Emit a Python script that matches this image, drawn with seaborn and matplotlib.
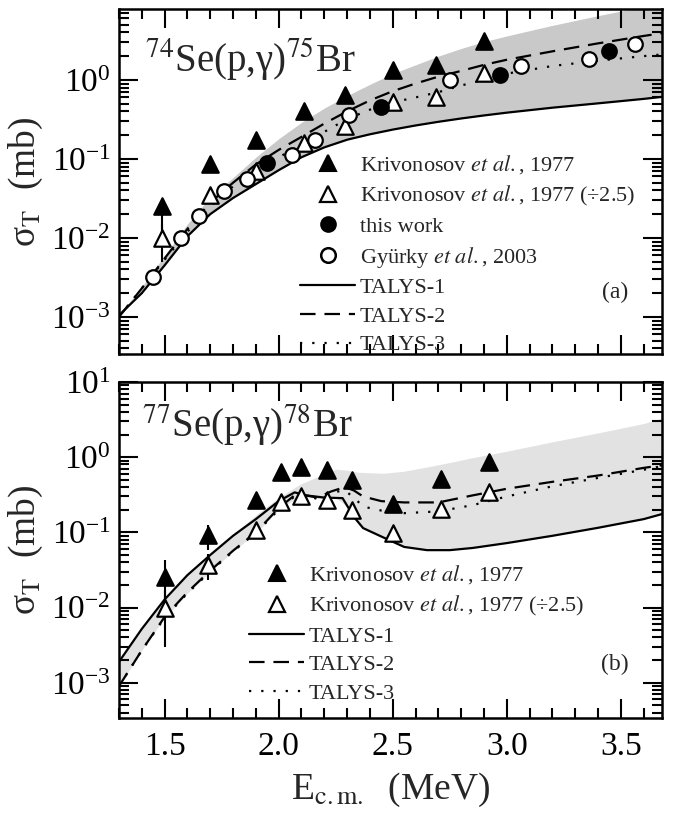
import numpy as np
import matplotlib
matplotlib.use("Agg")
import matplotlib.pyplot as plt
import seaborn as sns
from matplotlib.lines import Line2D
from matplotlib.ticker import (MultipleLocator, FormatStrFormatter, LogLocator,
                               LogFormatterSciNotation, NullFormatter)

# ---------------- 74Se(p,gamma)75Br ----------------
se74_kriv_e = [1.49, 1.70, 1.90, 2.11, 2.29, 2.50, 2.69, 2.90]
se74_kriv_sig = [0.0255, 0.087, 0.173, 0.40, 0.645, 1.34, 1.55, 3.07]
se74_kriv_lo = [0.0145, 0.020, 0.040, 0.090, 0.140, 0.280, 0.330, 0.600]
se74_kriv_hi = [0.005, 0.020, 0.040, 0.090, 0.140, 0.280, 0.330, 0.600]
se74_krivs_sig = [0.0100, 0.035, 0.070, 0.157, 0.26, 0.53, 0.60, 1.22]
se74_krivs_err = [0.005, 0.008, 0.016, 0.036, 0.056, 0.110, 0.130, 0.240]

se74_this_e = [1.95, 2.45, 2.97, 3.45]
se74_this_sig = [0.089, 0.45, 1.16, 2.29]

se74_gy_e = [1.45, 1.57, 1.65, 1.76, 1.86, 2.06, 2.16, 2.31, 2.75, 3.06, 3.36, 3.56]
se74_gy_sig = [0.0032, 0.0100, 0.0192, 0.039, 0.056, 0.111, 0.176, 0.359,
               1.00, 1.51, 1.83, 2.87]

se74_model_e = [1.30, 1.40, 1.50, 1.60, 1.70, 1.80, 1.90, 2.00, 2.10, 2.20, 2.30,
                2.40, 2.50, 2.60, 2.70, 2.80, 2.90, 3.00, 3.20, 3.40, 3.60, 3.68]
se74_talys1 = [1.05e-3, 2.0e-3, 4.5e-3, 0.0105, 0.020, 0.032, 0.048, 0.072, 0.105,
               0.140, 0.175, 0.205, 0.235, 0.265, 0.295, 0.325, 0.355, 0.385,
               0.445, 0.505, 0.575, 0.610]
se74_talys2 = [1.0e-3, 2.3e-3, 5.5e-3, 0.013, 0.028, 0.050, 0.085, 0.130, 0.190,
               0.280, 0.400, 0.550, 0.720, 0.900, 1.10, 1.30, 1.55, 1.80,
               2.30, 2.90, 3.60, 3.90]
se74_talys3 = [1.0e-3, 2.3e-3, 5.3e-3, 0.012, 0.025, 0.045, 0.072, 0.105, 0.150,
               0.220, 0.320, 0.420, 0.520, 0.600, 0.700, 0.850, 1.00, 1.20,
               1.50, 1.75, 2.00, 2.10]
se74_band_hi = [1.05e-3, 2.4e-3, 6.0e-3, 0.015, 0.033, 0.058, 0.105, 0.180, 0.290,
                0.440, 0.630, 0.880, 1.20, 1.55, 2.00, 2.50, 3.05, 3.60,
                4.90, 6.50, 8.50, 9.50]

# ---------------- 77Se(p,gamma)78Br ----------------
se77_kriv_e = [1.50, 1.69, 1.90, 2.01, 2.10, 2.21, 2.32, 2.50, 2.71, 2.92]
se77_kriv_sig = [0.0256, 0.092, 0.267, 0.63, 0.74, 0.67, 0.50, 0.24, 0.52, 0.86]
se77_kriv_err = [0.0175, 0.033, 0.060, 0.140, 0.160, 0.150, 0.110, 0.055, 0.120, 0.190]
se77_krivs_sig = [0.0100, 0.037, 0.107, 0.254, 0.30, 0.267, 0.20, 0.097, 0.207, 0.344]
se77_krivs_err = [0.007, 0.014, 0.024, 0.056, 0.065, 0.060, 0.045, 0.022, 0.048, 0.076]

se77_t1_e = [1.30, 1.40, 1.50, 1.60, 1.70, 1.80, 1.90, 2.00, 2.07, 2.12, 2.20, 2.28,
             2.33, 2.37, 2.45, 2.55, 2.65, 2.75, 2.85, 3.00, 3.20, 3.40, 3.60, 3.68]
se77_talys1 = [1.9e-3, 5.2e-3, 0.0128, 0.027, 0.050, 0.090, 0.150, 0.260, 0.340,
               0.310, 0.290, 0.285, 0.160, 0.114, 0.088, 0.064, 0.058, 0.058,
               0.062, 0.072, 0.090, 0.115, 0.150, 0.175]
se77_t23_e = [1.30, 1.40, 1.50, 1.60, 1.70, 1.80, 1.90, 2.00, 2.08, 2.12, 2.17, 2.23,
              2.29, 2.33, 2.37, 2.45, 2.55, 2.70, 2.85, 3.00, 3.20, 3.40, 3.60, 3.68]
se77_talys2 = [9.0e-4, 2.7e-3, 7.5e-3, 0.016, 0.031, 0.057, 0.100, 0.210, 0.330,
               0.310, 0.290, 0.350, 0.400, 0.360, 0.300, 0.260, 0.250, 0.250,
               0.310, 0.380, 0.470, 0.570, 0.720, 0.780]
se77_talys3 = [9.0e-4, 2.7e-3, 7.3e-3, 0.0155, 0.030, 0.056, 0.098, 0.200, 0.320,
               0.300, 0.280, 0.340, 0.360, 0.290, 0.220, 0.195, 0.180, 0.190,
               0.230, 0.300, 0.410, 0.530, 0.680, 0.760]
se77_band_e = [1.30, 1.40, 1.50, 1.60, 1.70, 1.80, 1.90, 2.00, 2.09, 2.17, 2.25, 2.30,
               2.35, 2.40, 2.46, 2.55, 2.65, 2.75, 2.84, 3.00, 3.20, 3.40, 3.60, 3.68]
se77_band_lo = [9.0e-4, 2.7e-3, 7.3e-3, 0.0155, 0.030, 0.056, 0.098, 0.200, 0.300,
                0.280, 0.290, 0.220, 0.130, 0.100, 0.088, 0.064, 0.058, 0.058,
                0.062, 0.072, 0.090, 0.115, 0.150, 0.175]
se77_band_hi = [1.9e-3, 5.2e-3, 0.0128, 0.027, 0.050, 0.095, 0.170, 0.290, 0.430,
                0.550, 0.690, 0.670, 0.630, 0.620, 0.610, 0.650, 0.740, 0.850,
                0.970, 1.20, 1.60, 2.10, 2.80, 3.30]

legend_labels_a = ["Krivonosov $\\mathit{et\\ al.}$, 1977",
                   "Krivonosov $\\mathit{et\\ al.}$, 1977 (÷2.5)",
                   "this work",
                   "Gyürky $\\mathit{et\\ al.}$, 2003",
                   "TALYS-1", "TALYS-2", "TALYS-3"]
legend_labels_b = ["Krivonosov $\\mathit{et\\ al.}$, 1977",
                   "Krivonosov $\\mathit{et\\ al.}$, 1977 (÷2.5)",
                   "TALYS-1", "TALYS-2", "TALYS-3"]

# ---------------- styling ----------------
sns.set_style("ticks")
plt.rcParams.update({
    "font.family": ["Liberation Serif", "DejaVu Serif"],
    "mathtext.fontset": "stix",
    "axes.unicode_minus": False,
    "axes.linewidth": 1.8,
    "axes.edgecolor": "black",
})

DASH = (0, (7, 4))
DOT = (0, (1, 4.5))
LW = 1.6
BAND_A = "#c9c9c9"
BAND_B = "#e2e2e2"
MS_TRI = 140
MS_CIR = 110


def style_axes(ax, ylim, xlabels):
    ax.set_yscale("log")
    ax.set_xlim(1.3, 3.68)
    ax.set_ylim(*ylim)
    ax.xaxis.set_major_locator(MultipleLocator(0.5))
    ax.xaxis.set_minor_locator(MultipleLocator(0.1))
    ax.xaxis.set_major_formatter(FormatStrFormatter("%.1f"))
    ax.yaxis.set_major_locator(LogLocator(base=10, numticks=20))
    ax.yaxis.set_minor_locator(LogLocator(base=10, subs=np.arange(2, 10), numticks=20))
    ax.yaxis.set_major_formatter(LogFormatterSciNotation())
    ax.yaxis.set_minor_formatter(NullFormatter())
    ax.tick_params(which="both", direction="in", top=True, right=True,
                   width=1.5, colors="black")
    ax.tick_params(which="major", length=14, labelsize=24, pad=6)
    ax.tick_params(axis="x", which="major", pad=10)
    ax.tick_params(which="minor", length=7)
    if not xlabels:
        ax.tick_params(axis="x", labelbottom=False)
    for s in ax.spines.values():
        s.set_linewidth(1.8)
    ax.set_ylabel("σ$_\\mathrm{T}$  (mb)", fontsize=27, labelpad=4)
    ax.set_xlabel("")


def draw_curves(ax, e1, t1, e23, t2, t3):
    sns.lineplot(x=e1, y=t1, ax=ax, color="black", lw=LW, estimator=None,
                 sort=False, zorder=2)
    sns.lineplot(x=e23, y=t2, ax=ax, color="black", lw=LW, linestyle=DASH,
                 estimator=None, sort=False, zorder=2)
    sns.lineplot(x=e23, y=t3, ax=ax, color="black", lw=LW, linestyle=DOT,
                 estimator=None, sort=False, zorder=2)


def draw_points(ax, x, y, marker, filled, size, err=None):
    if err is not None:
        ax.errorbar(x, y, yerr=err, fmt="none", ecolor="black", elinewidth=1.5,
                    capsize=0, zorder=3)
    sns.scatterplot(x=x, y=y, ax=ax, marker=marker, s=size,
                    color="black" if filled else "white", edgecolor="black",
                    linewidth=1.6, zorder=5, legend=False)


def legend_handles(kinds):
    hs = []
    for k in kinds:
        if k == "tri_f":
            hs.append(Line2D([], [], ls="none", marker="^", ms=11, mfc="black", mec="black", mew=1.5))
        elif k == "tri_o":
            hs.append(Line2D([], [], ls="none", marker="^", ms=11, mfc="white", mec="black", mew=1.6))
        elif k == "cir_f":
            hs.append(Line2D([], [], ls="none", marker="o", ms=10.5, mfc="black", mec="black", mew=1.5))
        elif k == "cir_o":
            hs.append(Line2D([], [], ls="none", marker="o", ms=10.5, mfc="white", mec="black", mew=1.8))
        elif k == "solid":
            hs.append(Line2D([], [], color="black", lw=LW))
        elif k == "dash":
            hs.append(Line2D([], [], color="black", lw=LW, ls=DASH))
        elif k == "dot":
            hs.append(Line2D([], [], color="black", lw=LW, ls=DOT))
    return hs


fig = plt.figure(figsize=(6.73, 8.23), dpi=100)
ax1 = fig.add_axes([0.1768, 0.5699, 0.8068, 0.4192])
ax2 = fig.add_axes([0.1768, 0.1276, 0.8068, 0.4083])

# ---- panel (a) ----
ax1.fill_between(se74_model_e, se74_talys1, se74_band_hi, color=BAND_A, lw=0, zorder=0)
draw_curves(ax1, se74_model_e, se74_talys1, se74_model_e, se74_talys2, se74_talys3)
draw_points(ax1, se74_kriv_e, se74_kriv_sig, "^", True, MS_TRI,
            err=[se74_kriv_lo, se74_kriv_hi])
draw_points(ax1, se74_kriv_e, se74_krivs_sig, "^", False, MS_TRI, err=se74_krivs_err)
draw_points(ax1, se74_this_e, se74_this_sig, "o", True, MS_CIR)
draw_points(ax1, se74_gy_e, se74_gy_sig, "o", False, MS_CIR)
style_axes(ax1, (3.4e-4, 7.9), xlabels=False)
ax1.text(0.048, 0.817, "$^{74}$Se(p,γ)$^{75}$Br", transform=ax1.transAxes,
         fontsize=28, va="baseline", ha="left")
ax1.text(0.913, 0.177, "(a)", transform=ax1.transAxes, fontsize=17,
         va="center", ha="center")
ax1.legend(legend_handles(["tri_f", "tri_o", "cir_f", "cir_o", "solid", "dash", "dot"]),
           legend_labels_a, loc="upper left", bbox_to_anchor=(0.333, 0.582),
           frameon=False, fontsize=16, borderpad=0, borderaxespad=0,
           handlelength=2.5, handletextpad=0.2, labelspacing=0.36)

# ---- panel (b) ----
ax2.fill_between(se77_band_e, se77_band_lo, se77_band_hi, color=BAND_B, lw=0, zorder=0)
draw_curves(ax2, se77_t1_e, se77_talys1, se77_t23_e, se77_talys2, se77_talys3)
draw_points(ax2, se77_kriv_e, se77_kriv_sig, "^", True, MS_TRI, err=se77_kriv_err)
draw_points(ax2, se77_kriv_e, se77_krivs_sig, "^", False, MS_TRI, err=se77_krivs_err)
style_axes(ax2, (3.4e-4, 10.0), xlabels=True)
ax2.set_xlabel("E$_\\mathrm{c.m.}$  (MeV)", fontsize=27, labelpad=6)
ax2.text(0.042, 0.836, "$^{77}$Se(p,γ)$^{78}$Br", transform=ax2.transAxes,
         fontsize=28, va="baseline", ha="left")
ax2.text(0.913, 0.158, "(b)", transform=ax2.transAxes, fontsize=17,
         va="center", ha="center")
ax2.legend(legend_handles(["tri_f", "tri_o", "solid", "dash", "dot"]),
           legend_labels_b, loc="upper left", bbox_to_anchor=(0.239, 0.461),
           frameon=False, fontsize=16, borderpad=0, borderaxespad=0,
           handlelength=2.5, handletextpad=0.2, labelspacing=0.36)

fig.align_ylabels([ax1, ax2])
fig.savefig("out.png", dpi=100)
